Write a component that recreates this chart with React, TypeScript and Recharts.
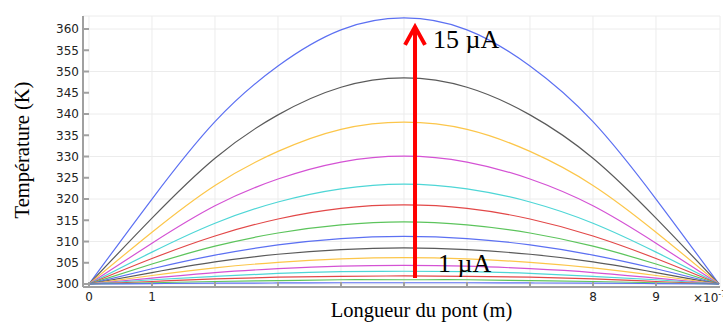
import {
  LineChart,
  Line,
  XAxis,
  YAxis,
  CartesianGrid,
  ReferenceLine,
  ReferenceDot,
} from "recharts";

// position along the bridge (x 1e-7 m)
const positions = [0, 1, 2, 3, 4, 5, 6, 7, 8, 9, 10];

// temperature profiles (K), one per bias current
const t15 = [300, 320.0, 338.2, 351.3, 359.8, 362.6, 359.8, 351.3, 338.2, 320.0, 300];
const t14 = [300, 315.5, 329.6, 339.8, 346.3, 348.5, 346.3, 339.8, 329.6, 315.5, 300];
const t13 = [300, 312.2, 323.2, 331.2, 336.4, 338.1, 336.4, 331.2, 323.2, 312.2, 300];
const t12 = [300, 309.6, 318.4, 324.7, 328.7, 330.1, 328.7, 324.7, 318.4, 309.6, 300];
const t11 = [300, 307.5, 314.3, 319.3, 322.4, 323.5, 322.4, 319.3, 314.3, 307.5, 300];
const t10 = [300, 306.0, 311.3, 315.3, 317.8, 318.6, 317.8, 315.3, 311.3, 306.0, 300];
const t9 = [300, 304.7, 308.9, 312.0, 313.9, 314.6, 313.9, 312.0, 308.9, 304.7, 300];
const t8 = [300, 303.6, 306.8, 309.2, 310.7, 311.2, 310.7, 309.2, 306.8, 303.6, 300];
const t7 = [300, 302.7, 305.2, 307.0, 308.1, 308.5, 308.1, 307.0, 305.2, 302.7, 300];
const t6 = [300, 302.0, 303.8, 305.1, 305.9, 306.2, 305.9, 305.1, 303.8, 302.0, 300];
const t5 = [300, 301.4, 302.7, 303.6, 304.2, 304.4, 304.2, 303.6, 302.7, 301.4, 300];
const t4 = [300, 301.0, 301.8, 302.5, 302.9, 303.0, 302.9, 302.5, 301.8, 301.0, 300];
const t3 = [300, 300.6, 301.2, 301.6, 301.8, 301.9, 301.8, 301.6, 301.2, 300.6, 300];
const t2 = [300, 300.3, 300.6, 300.8, 301.0, 301.0, 301.0, 300.8, 300.6, 300.3, 300];
const t1 = [300, 300.1, 300.2, 300.25, 300.3, 300.3, 300.3, 300.25, 300.2, 300.1, 300];

const profiles = [t15, t14, t13, t12, t11, t10, t9, t8, t7, t6, t5, t4, t3, t2, t1];

const xTicks = [0, 1, 2, 3, 4, 5, 6, 7, 8, 9];
const xTickLabels = ["0", "1", "", "", "", "", "", "", "8", "9"];
const yTicks = [300, 305, 310, 315, 320, 325, 330, 335, 340, 345, 350, 355, 360];

// comsol colour cycle, top curve first
const palette = ["#5c70f2", "#5a5a5a", "#fcc64a", "#d452d4", "#4ed6d6", "#e24848", "#5cc45c"];

const rows = positions.map((x, i) => {
  const row: Record<string, number> = { x };
  profiles.forEach((p, k) => {
    row[`s${15 - k}`] = p[i];
  });
  return row;
});

const frame = "#a0a0a0";
const tickFont = { fill: "#222", fontSize: 12, fontFamily: "DejaVu Sans" };
const serif = "Liberation Serif, Times New Roman, serif";

export default function App() {
  return (
    <div style={{ position: "absolute", left: 0, top: 0, width: 723, height: 325, background: "#fff" }}>
      <LineChart
        width={723}
        height={325}
        data={rows}
        margin={{ top: 16, right: 3, bottom: 8, left: 8 }}
      >
        <CartesianGrid stroke="#ececec" strokeWidth={1} />
        <XAxis
          dataKey="x"
          type="number"
          domain={[-0.095, 10.016]}
          allowDataOverflow
          ticks={xTicks}
          tickFormatter={(v) => xTickLabels[xTicks.indexOf(v)] ?? ""}
          height={30}
          tickSize={-5}
          tickMargin={10}
          tick={tickFont}
          stroke={frame}
          strokeWidth={2}
        />
        <XAxis
          xAxisId="top"
          dataKey="x"
          type="number"
          orientation="top"
          domain={[-0.095, 10.016]}
          allowDataOverflow
          ticks={xTicks}
          tick={false}
          height={0}
          tickSize={-5}
          stroke={frame}
          strokeWidth={2}
        />
        <YAxis
          type="number"
          domain={[299.3, 363.06]}
          allowDataOverflow
          ticks={yTicks}
          width={75}
          tickSize={-6}
          tickMargin={10}
          tick={tickFont}
          stroke={frame}
          strokeWidth={2}
        />
        <YAxis
          yAxisId="right"
          orientation="right"
          type="number"
          domain={[299.3, 363.06]}
          allowDataOverflow
          ticks={yTicks}
          tick={false}
          width={0}
          tickSize={-5}
          stroke={frame}
          strokeWidth={2}
        />

        {profiles.map((_, k) => (
          <Line
            key={k}
            dataKey={`s${15 - k}`}
            type="natural"
            stroke={palette[k % palette.length]}
            strokeWidth={1.2}
            dot={false}
            isAnimationActive={false}
          />
        ))}

        <ReferenceLine
          segment={[
            { x: 5.175, y: 301.4 },
            { x: 5.175, y: 360.1 },
          ]}
          stroke="#ff0000"
          strokeWidth={4}
        />
        <ReferenceDot
          x={5.175}
          y={360.5}
          shape={(p: any) => (
            <polyline
              points={`${p.cx - 10},${p.cy + 18} ${p.cx},${p.cy} ${p.cx + 10},${p.cy + 18}`}
              fill="none"
              stroke="#ff0000"
              strokeWidth={4}
            />
          )}
        />
        <ReferenceDot
          x={5.46}
          y={355.5}
          shape={(p: any) => (
            <text x={p.cx} y={p.cy} fontSize={26} fontFamily={serif} fill="#000">
              15 µA
            </text>
          )}
        />
        <ReferenceDot
          x={5.54}
          y={302.8}
          shape={(p: any) => (
            <text x={p.cx} y={p.cy} fontSize={26} fontFamily={serif} fill="#000">
              1 µA
            </text>
          )}
        />
      </LineChart>

      <div
        style={{
          position: "absolute",
          left: 693,
          top: 290,
          fontFamily: "DejaVu Sans",
          fontSize: 12,
          color: "#222",
          whiteSpace: "nowrap",
        }}
      >
        ×10<sup style={{ fontSize: 8 }}>-7</sup>
      </div>
      <div
        style={{
          position: "absolute",
          left: 0,
          width: 843,
          top: 299,
          textAlign: "center",
          fontFamily: serif,
          fontSize: 20.5,
          color: "#000",
          whiteSpace: "nowrap",
        }}
      >
        Longueur du pont (m)
      </div>
      <div
        style={{
          position: "absolute",
          left: 22,
          top: 150,
          transform: "translate(-50%, -50%) rotate(-90deg)",
          fontFamily: serif,
          fontSize: 20.5,
          color: "#000",
          whiteSpace: "nowrap",
        }}
      >
        Température (K)
      </div>
    </div>
  );
}
